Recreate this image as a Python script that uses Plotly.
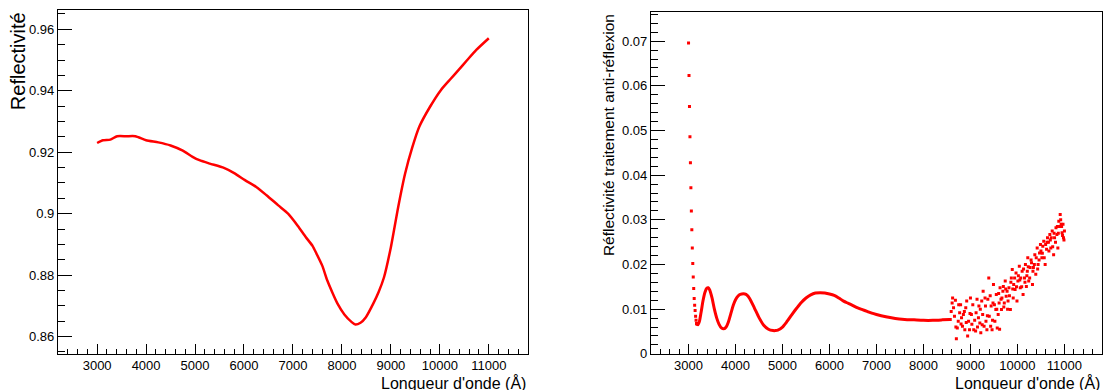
import plotly.graph_objects as go

# ---------------- Left panel: reflectivity ----------------
wl_left = [3000, 3120, 3270, 3410, 3600, 3780, 4000, 4250, 4500, 4750, 4950, 5090,
           5300, 5590, 5800, 6020, 6250, 6460, 6700, 6900, 7100, 7260, 7400, 7480,
           7600, 7700, 7800, 7910, 8050, 8200, 8275, 8380, 8490, 8640, 8750, 8860,
           9000, 9150, 9290, 9440, 9580, 9800, 10020, 10200, 10380, 10560, 10745, 11000]
refl_left = [0.9230, 0.9239, 0.9241, 0.9252, 0.9252, 0.9252, 0.9239, 0.9232, 0.9222, 0.9205,
             0.9185, 0.9174, 0.9163, 0.9149, 0.9132, 0.9109, 0.9087, 0.9060, 0.9027, 0.9000,
             0.8960, 0.8924, 0.8895, 0.8870, 0.8830, 0.8783, 0.8745, 0.8707, 0.8672, 0.8647,
             0.8639, 0.8645, 0.8663, 0.8707, 0.8745, 0.8793, 0.8891, 0.9022, 0.9130, 0.9217,
             0.9283, 0.9348, 0.9402, 0.9435, 0.9467, 0.9500, 0.9533, 0.9571]

# ---------------- Right panel: anti-reflection coating ----------------
# steep initial drop (individual points)
wl_drop = [3000, 3010, 3020, 3030, 3040, 3050, 3060, 3070, 3080, 3090,
           3100, 3110, 3120, 3130, 3140, 3150, 3160, 3170, 3180]
r_drop = [0.0696, 0.0623, 0.0554, 0.0486, 0.0428, 0.0372, 0.0320, 0.0278, 0.0237, 0.0202,
          0.0172, 0.0146, 0.0124, 0.0109, 0.0097, 0.0084, 0.0075, 0.0068, 0.0066]

# smooth oscillating part
wl_smooth = [3180, 3200, 3230, 3270, 3310, 3350, 3390, 3420, 3450, 3500, 3550, 3600, 3650,
             3700, 3750, 3800, 3850, 3900, 3950, 4000, 4050, 4100, 4200, 4250, 4300, 4400,
             4500, 4600, 4700, 4800, 4850, 4900, 5000, 5100, 5200, 5300, 5400, 5500, 5600,
             5700, 5800, 5900, 6000, 6100, 6200, 6300, 6400, 6500, 6600, 6700, 6800, 6900,
             7000, 7200, 7400, 7600, 7800, 8000, 8200, 8400, 8560]
r_smooth = [0.0068, 0.0065, 0.0072, 0.0095, 0.0120, 0.0138, 0.0147, 0.0148, 0.0143, 0.0125,
            0.0100, 0.0080, 0.0066, 0.0058, 0.0056, 0.0060, 0.0072, 0.0090, 0.0108, 0.0121,
            0.0129, 0.0133, 0.0134, 0.0131, 0.0124, 0.0103, 0.0081, 0.0064, 0.0055, 0.0052,
            0.0052, 0.0053, 0.0060, 0.0073, 0.0088, 0.0102, 0.0115, 0.0125, 0.0132, 0.0136,
            0.0137, 0.0136, 0.0134, 0.0131, 0.0125, 0.0118, 0.0113, 0.0108, 0.0103, 0.0099,
            0.0095, 0.0091, 0.0088, 0.0083, 0.0079, 0.0077, 0.0076, 0.0075, 0.0075, 0.0076,
            0.0077]

# noisy tail (individual points)
wl_noise = [8570, 8610, 8620, 8640, 8660, 8700, 8720, 8740, 8750, 8770, 8800, 8810, 8830,
            8850, 8880, 8900, 8920, 8940, 8960, 8980, 9000, 9020, 9030, 9070, 9110, 9120,
            9140, 9170, 9180, 9200, 9220, 9240, 9260, 9270, 9290, 9320, 9330, 9350, 9370,
            9390, 9400, 9430, 9440, 9460, 9480, 9490, 9520, 9540, 9550, 9570, 9590, 9610,
            9630, 9650, 9660, 9690, 9700, 9720, 9740, 9760, 9780, 9800, 9820, 9850, 9870,
            9890, 9910, 9920, 9950, 9970, 9990, 10010, 10040, 10060, 10070, 10100, 10120,
            10150, 10170, 10190, 10210, 10220, 10240, 10270, 10300, 10320, 10340, 10370,
            10390, 10420, 10440, 10470, 10490, 10520, 10540, 10560, 10590, 10620, 10640,
            10670, 10690, 10710, 10740, 10770, 10790, 10820, 10840, 10860, 10880, 10910,
            10930, 10950, 10970, 10980, 11000,
            8590, 8680, 8690, 8790, 8870, 8910, 8990, 9050, 9090, 9150, 9210, 9250, 9310,
            9360, 9420, 9470, 9510, 9560, 9600, 9620, 9670, 9710, 9750, 9790, 9830, 9860,
            9900, 9940, 9980, 10020, 10050, 10090, 10130, 10160, 10200, 10230, 10260, 10290,
            10330, 10360, 10400, 10430, 10460, 10500, 10530, 10570, 10600, 10630, 10660,
            10700, 10720, 10750, 10780, 10810, 10850, 10870, 10900, 10920, 10940, 10960, 10990]
r_noise = [0.0077, 0.0114, 0.0125, 0.0103, 0.0084, 0.0034, 0.0058, 0.0073, 0.0110, 0.0092,
           0.0067, 0.0081, 0.0062, 0.0088, 0.0054, 0.0103, 0.0118, 0.0040, 0.0073, 0.0054,
           0.0125, 0.0088, 0.0066, 0.0054, 0.0051, 0.0092, 0.0122, 0.0081, 0.0107, 0.0069,
           0.0047, 0.0118, 0.0088, 0.0140, 0.0062, 0.0107, 0.0073, 0.0054, 0.0122, 0.0170,
           0.0084, 0.0062, 0.0107, 0.0054, 0.0114, 0.0155, 0.0073, 0.0099, 0.0133, 0.0058,
           0.0088, 0.0114, 0.0148, 0.0122, 0.0099, 0.0140, 0.0151, 0.0114, 0.0163, 0.0129,
           0.0140, 0.0118, 0.0148, 0.0099, 0.0170, 0.0189, 0.0125, 0.0155, 0.0144, 0.0181,
           0.0118, 0.0163, 0.0196, 0.0148, 0.0170, 0.0185, 0.0133, 0.0170, 0.0200, 0.0151,
           0.0185, 0.0215, 0.0163, 0.0193, 0.0204, 0.0155, 0.0193, 0.0222, 0.0178, 0.0237,
           0.0200, 0.0226, 0.0245, 0.0215, 0.0241, 0.0252, 0.0200, 0.0234, 0.0260, 0.0230,
           0.0267, 0.0237, 0.0275, 0.0222, 0.0260, 0.0282, 0.0267, 0.0237, 0.0297, 0.0312,
           0.0290, 0.0271, 0.0290, 0.0260, 0.0275,
           0.0095, 0.0120, 0.0060, 0.0110, 0.0095, 0.0070, 0.0090, 0.0110, 0.0075, 0.0060,
           0.0100, 0.0065, 0.0125, 0.0085, 0.0130, 0.0075, 0.0110, 0.0100, 0.0135, 0.0055,
           0.0125, 0.0105, 0.0145, 0.0100, 0.0130, 0.0160, 0.0145, 0.0170, 0.0150, 0.0175,
           0.0165, 0.0150, 0.0190, 0.0160, 0.0175, 0.0195, 0.0170, 0.0210, 0.0185, 0.0200,
           0.0215, 0.0190, 0.0210, 0.0230, 0.0225, 0.0215, 0.0245, 0.0250, 0.0250, 0.0255,
           0.0260, 0.0240, 0.0270, 0.0250, 0.0285, 0.0270, 0.0285, 0.0300, 0.0285, 0.0265,
           0.0255]

x_ticks = [3000, 4000, 5000, 6000, 7000, 8000, 9000, 10000, 11000]
x_labels = ["3000", "4000", "5000", "6000", "7000", "8000", "9000", "10000", "11000"]
y1_ticks = [0.86, 0.88, 0.9, 0.92, 0.94, 0.96]
y1_labels = ["0.86", "0.88", "0.9", "0.92", "0.94", "0.96"]
y2_ticks = [0, 0.01, 0.02, 0.03, 0.04, 0.05, 0.06, 0.07]
y2_labels = ["0", "0.01", "0.02", "0.03", "0.04", "0.05", "0.06", "0.07"]

RED = "#ff0000"
FONT = "Liberation Sans, Arial, Helvetica, sans-serif"

fig = go.Figure()
fig.add_trace(go.Scatter(x=wl_left, y=refl_left, mode="lines",
                         line=dict(color=RED, width=2.5, shape="spline", smoothing=0.6),
                         xaxis="x", yaxis="y", showlegend=False))
fig.add_trace(go.Scatter(x=wl_smooth, y=r_smooth, mode="lines",
                         line=dict(color=RED, width=3, shape="spline", smoothing=0.8),
                         xaxis="x2", yaxis="y2", showlegend=False))
fig.add_trace(go.Scatter(x=wl_drop, y=r_drop, mode="markers",
                         marker=dict(color=RED, size=3, symbol="square"),
                         xaxis="x2", yaxis="y2", showlegend=False))
fig.add_trace(go.Scatter(x=wl_noise, y=r_noise, mode="markers",
                         marker=dict(color=RED, size=3, symbol="square"),
                         xaxis="x2", yaxis="y2", showlegend=False))

axis_common = dict(showline=True, linecolor="black", linewidth=1, mirror=True,
                   showgrid=False, zeroline=False, ticks="inside",
                   tickcolor="black", tickfont=dict(family=FONT, size=13, color="black"))

fig.update_layout(
    width=1108, height=400,
    margin=dict(l=0, r=0, t=0, b=0),
    paper_bgcolor="white", plot_bgcolor="white",
    xaxis=dict(axis_common, domain=[0.0523, 0.4765], range=[2200, 11800],
               tickvals=x_ticks, ticktext=x_labels,
               ticklen=10, minor=dict(dtick=200, ticks="inside", ticklen=5, tickcolor="black"),
               anchor="y"),
    yaxis=dict(axis_common, domain=[0.0974, 0.974], range=[0.85437, 0.96623],
               tickvals=y1_ticks, ticktext=y1_labels,
               ticklen=14, minor=dict(dtick=0.005, tick0=0.86, ticks="inside", ticklen=7,
                                      tickcolor="black"),
               anchor="x"),
    xaxis2=dict(axis_common, domain=[0.5875, 0.9946], range=[2200, 11800],
                tickvals=x_ticks, ticktext=x_labels,
                ticklen=10, minor=dict(dtick=200, ticks="inside", ticklen=5, tickcolor="black"),
                anchor="y2"),
    yaxis2=dict(axis_common, domain=[0.0974, 0.969], range=[0, 0.0765],
                tickvals=y2_ticks, ticktext=y2_labels,
                ticklen=14, minor=dict(dtick=0.002, tick0=0, ticks="inside", ticklen=7,
                                       tickcolor="black"),
                anchor="x2"),
    annotations=[
        dict(text="Longueur d'onde (Å)", xref="paper", yref="paper", x=0.4765, y=0.023,
             xanchor="right", yanchor="middle", showarrow=False,
             font=dict(family=FONT, size=16, color="black")),
        dict(text="Longueur d'onde (Å)", xref="paper", yref="paper", x=0.9946, y=0.023,
             xanchor="right", yanchor="middle", showarrow=False,
             font=dict(family=FONT, size=16, color="black")),
        dict(text="Reflectivité", xref="paper", yref="paper", x=0.0162, y=0.974,
             xanchor="center", yanchor="top", textangle=-90, showarrow=False,
             font=dict(family=FONT, size=20, color="black")),
        dict(text="Réflectivité traitement anti-réflexion", xref="paper", yref="paper",
             x=0.5487, y=0.969, xanchor="center", yanchor="top", textangle=-90,
             showarrow=False, font=dict(family=FONT, size=15.5, color="black")),
    ],
)

fig.write_html("out.html", config={"displayModeBar": False},
               post_script="document.body.style.margin='0';")
